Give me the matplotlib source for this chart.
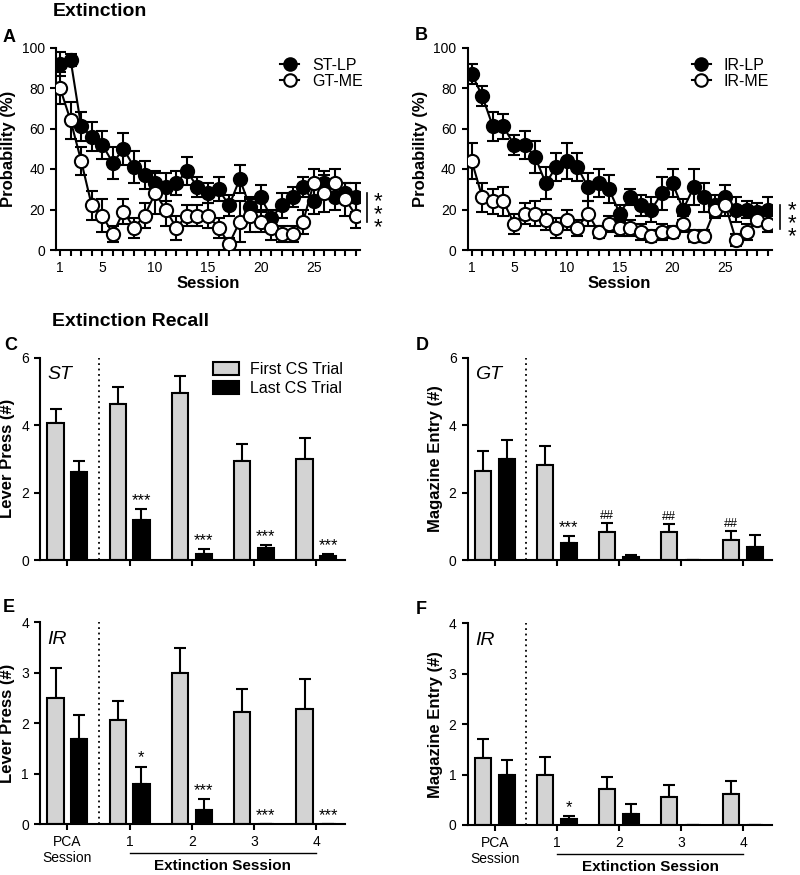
import numpy as np
import matplotlib
matplotlib.use("Agg")
import matplotlib.pyplot as plt
import matplotlib.transforms as mtransforms
from matplotlib.lines import Line2D

plt.rcParams['font.family'] = ['Liberation Sans', 'DejaVu Sans']
plt.rcParams['axes.linewidth'] = 1.5
plt.rcParams['xtick.major.width'] = 1.5
plt.rcParams['ytick.major.width'] = 1.5
plt.rcParams['xtick.major.size'] = 4.5
plt.rcParams['ytick.major.size'] = 4.5
plt.rcParams['xtick.labelsize'] = 10
plt.rcParams['ytick.labelsize'] = 10

# ---- extinction curves (sessions 1-29) ----
sessions = np.arange(1, 30)
st_lp = [92, 94, 61, 56, 52, 43, 50, 41, 37, 33, 31, 33, 39, 31, 28, 30, 22, 35, 21, 26,
         16, 22, 26, 31, 24, 33, 26, 28, 26]
st_lp_err = [6, 3, 7, 7, 7, 8, 8, 8, 7, 6, 7, 6, 7, 5, 5, 6, 5, 7, 5, 6,
             4, 6, 5, 5, 6, 6, 6, 5, 7]
gt_me = [80, 64, 44, 22, 17, 8, 19, 11, 17, 28, 20, 11, 17, 17, 17, 11, 3, 14, 17, 14,
         11, 8, 8, 14, 33, 28, 33, 25, 17]
gt_me_err = [8, 9, 7, 7, 8, 4, 6, 5, 6, 10, 8, 6, 5, 5, 6, 5, 3, 10, 8, 5,
             6, 4, 4, 6, 7, 9, 7, 8, 6]
ir_lp = [87, 76, 61, 61, 52, 52, 46, 33, 41, 44, 41, 31, 33, 30, 18, 26, 22, 20, 28, 33,
         20, 31, 26, 22, 26, 20, 20, 19, 20]
ir_lp_err = [5, 5, 7, 6, 5, 7, 8, 8, 7, 9, 7, 7, 7, 7, 4, 4, 5, 6, 8, 7,
             5, 9, 7, 5, 6, 6, 4, 4, 6]
ir_me = [44, 26, 24, 24, 13, 18, 18, 15, 11, 15, 11, 18, 9, 13, 11, 11, 9, 7, 9, 9,
         13, 7, 7, 20, 22, 5, 9, 15, 13]
ir_me_err = [9, 7, 6, 7, 5, 5, 6, 5, 5, 5, 4, 6, 3, 4, 4, 4, 4, 3, 4, 3,
             4, 3, 3, 4, 5, 3, 4, 3, 4]

# ---- extinction recall (PCA, Ext 1-4) ----
groups = ['PCA\nSession', '1', '2', '3', '4']
c_first = [4.07, 4.62, 4.95, 2.95, 3.0]
c_first_err = [0.4, 0.52, 0.5, 0.5, 0.62]
c_last = [2.62, 1.18, 0.17, 0.35, 0.12]
c_last_err = [0.32, 0.33, 0.15, 0.1, 0.05]
c_marks = ['', '***', '***', '***', '***']

d_first = [2.65, 2.83, 0.83, 0.83, 0.58]
d_first_err = [0.57, 0.55, 0.27, 0.24, 0.28]
d_last = [3.0, 0.5, 0.08, 0.0, 0.4]
d_last_err = [0.56, 0.22, 0.07, 0.0, 0.33]
d_first_marks = ['', '', '##', '##', '##']
d_last_marks = ['', '***', '', '', '']

e_first = [2.5, 2.06, 3.0, 2.22, 2.28]
e_first_err = [0.59, 0.38, 0.5, 0.46, 0.6]
e_last = [1.68, 0.79, 0.28, 0.0, 0.0]
e_last_err = [0.49, 0.35, 0.22, 0.0, 0.0]
e_marks = ['', '*', '***', '***', '***']

f_first = [1.33, 1.0, 0.72, 0.56, 0.61]
f_first_err = [0.38, 0.34, 0.24, 0.23, 0.27]
f_last = [1.0, 0.11, 0.22, 0.0, 0.0]
f_last_err = [0.29, 0.07, 0.2, 0.0, 0.0]
f_marks = ['', '*', '', '', '']

fig = plt.figure(figsize=(8, 8.75), dpi=100)
W, H = 800.0, 875.0


def add_ax(left, right, top, bottom):
    return fig.add_axes([left / W, 1 - bottom / H, (right - left) / W, (bottom - top) / H])


def style(ax):
    ax.spines['top'].set_visible(False)
    ax.spines['right'].set_visible(False)
    ax.tick_params(direction='out', length=4.5, width=1.5)


def line_panel(ax, a, a_err, b, b_err, la, lb, bar_y, line_x, star_x):
    style(ax)
    ax.errorbar(sessions, a, yerr=a_err, color='black', lw=1.5, capsize=4, capthick=1.5,
                marker='o', ms=9.5, mfc='black', mec='black', mew=1.5, zorder=3)
    ax.errorbar(sessions, b, yerr=b_err, color='black', lw=1.5, capsize=4, capthick=1.5,
                marker='o', ms=9.5, mfc='white', mec='black', mew=1.5, zorder=4)
    ax.set_xlim(0.62, 29.38)
    ax.set_ylim(0, 100)
    ax.set_yticks([0, 20, 40, 60, 80, 100])
    ax.set_xticks(sessions)
    ax.set_xticklabels(['1' if s == 1 else (str(s) if s % 5 == 0 else '') for s in sessions])
    ax.set_xlabel('Session', fontsize=12, fontweight='bold', labelpad=1)
    ax.set_ylabel('Probability (%)', fontsize=12, fontweight='bold')
    handles = [Line2D([], [], color='black', lw=1.5, marker='o', ms=9, mfc='black', mew=1.5),
               Line2D([], [], color='black', lw=1.5, marker='o', ms=9, mfc='white', mew=1.5)]
    ax.legend(handles, [la, lb], loc='upper left', bbox_to_anchor=(0.69, 1.02), frameon=False,
              fontsize=11.5, handlelength=1.2, handletextpad=0.8, labelspacing=0.05)
    trans = mtransforms.blended_transform_factory(ax.transAxes, ax.transData)
    ax.plot([line_x, line_x], bar_y, color='black', lw=1.2, transform=trans, clip_on=False)
    ax.text(star_x, np.mean(bar_y) - 3.5, '*\n*\n*', fontsize=16, linespacing=0.5,
            ha='center', va='center', transform=trans)


def bar_panel(ax, first, first_err, last, last_err, ymax, yticks, ylabel, tag,
              first_marks=None, last_marks=None, xlabels=False, leg=False):
    style(ax)
    x = np.arange(len(groups))
    xf = x - 0.19
    xl = x + 0.19
    ax.bar(xf, first, width=0.26, color='#d3d3d3', edgecolor='black', lw=1.5,
           label='First CS Trial', zorder=2)
    ax.bar(xl, last, width=0.26, color='black', edgecolor='black', lw=1.5,
           label='Last CS Trial', zorder=2)
    ax.errorbar(xf, first, yerr=[np.zeros(5), first_err], fmt='none', ecolor='black',
                elinewidth=1.5, capsize=4, capthick=1.5, zorder=1)
    ax.errorbar(xl, last, yerr=[np.zeros(5), last_err], fmt='none', ecolor='black',
                elinewidth=1.5, capsize=4, capthick=1.5, zorder=1)
    ax.axvline(0.5, color='black', ls=(0, (1, 2)), lw=1.3)
    ax.set_xlim(-0.44, 4.46)
    ax.set_ylim(0, ymax)
    ax.set_yticks(yticks)
    ax.set_xticks(x)
    if xlabels:
        ax.set_xticklabels(groups)
    else:
        ax.set_xticklabels([])
    ax.set_ylabel(ylabel, fontsize=12, fontweight='bold')
    ax.text(0.025, 0.915, tag, style='italic', fontsize=14, transform=ax.transAxes,
            ha='left', va='center')
    off = 0.005 * ymax
    if first_marks:
        for xi, v, e, m in zip(xf, first, first_err, first_marks):
            if m:
                fs = 9 if m.startswith('#') else 12
                ax.text(xi, v + e + off, m, ha='center', va='bottom', fontsize=fs)
    if last_marks:
        for xi, v, e, m in zip(xl, last, last_err, last_marks):
            if m:
                ax.text(xi, v + e + off, m, ha='center', va='bottom', fontsize=12)
    if leg:
        ax.legend(loc='upper left', bbox_to_anchor=(0.52, 1.05), frameon=False,
                  fontsize=11.5, handlelength=1.6, handleheight=0.9, handletextpad=0.7,
                  labelspacing=0.25)
    if xlabels:
        trans = mtransforms.blended_transform_factory(ax.transData, ax.transAxes)
        ax.plot([1, 4], [-0.146, -0.146], color='black', lw=1.0, transform=trans, clip_on=False)
        ax.text(2.5, -0.21, 'Extinction Session', fontsize=11, fontweight='bold',
                ha='center', va='center', transform=trans)


axA = add_ax(56, 360, 47.5, 250)
line_panel(axA, st_lp, st_lp_err, gt_me, gt_me_err, 'ST-LP', 'GT-ME', [14, 28], 1.023, 1.06)
axB = add_ax(467.7, 771.7, 47.5, 250)
line_panel(axB, ir_lp, ir_lp_err, ir_me, ir_me_err, 'IR-LP', 'IR-ME', [10.5, 22], 1.027, 1.068)

axC = add_ax(40, 345, 357.7, 560)
bar_panel(axC, c_first, c_first_err, c_last, c_last_err, 6, [0, 2, 4, 6],
          'Lever Press (#)', 'ST', last_marks=c_marks, leg=True)
axD = add_ax(467.7, 771.7, 357.7, 560)
bar_panel(axD, d_first, d_first_err, d_last, d_last_err, 6, [0, 2, 4, 6],
          'Magazine Entry (#)', 'GT', first_marks=d_first_marks, last_marks=d_last_marks)
axE = add_ax(40, 345, 622.3, 824)
bar_panel(axE, e_first, e_first_err, e_last, e_last_err, 4, [0, 1, 2, 3, 4],
          'Lever Press (#)', 'IR', last_marks=e_marks, xlabels=True)
axF = add_ax(467.7, 771.7, 623.3, 825)
bar_panel(axF, f_first, f_first_err, f_last, f_last_err, 4, [0, 1, 2, 3, 4],
          'Magazine Entry (#)', 'IR', last_marks=f_marks, xlabels=True)

# titles and panel letters
fig.text(53 / W, 1 - 12 / H, 'Extinction', fontsize=14, fontweight='bold', va='center')
fig.text(52 / W, 1 - 322 / H, 'Extinction Recall', fontsize=14, fontweight='bold', va='center')
for lab, px, py in [('A', 3, 37), ('B', 415, 35), ('C', 4, 345),
                    ('D', 416, 345), ('E', 3, 608), ('F', 416, 610)]:
    fig.text(px / W, 1 - py / H, lab, fontsize=13, fontweight='bold', va='center')

fig.savefig('out.png', dpi=100)
